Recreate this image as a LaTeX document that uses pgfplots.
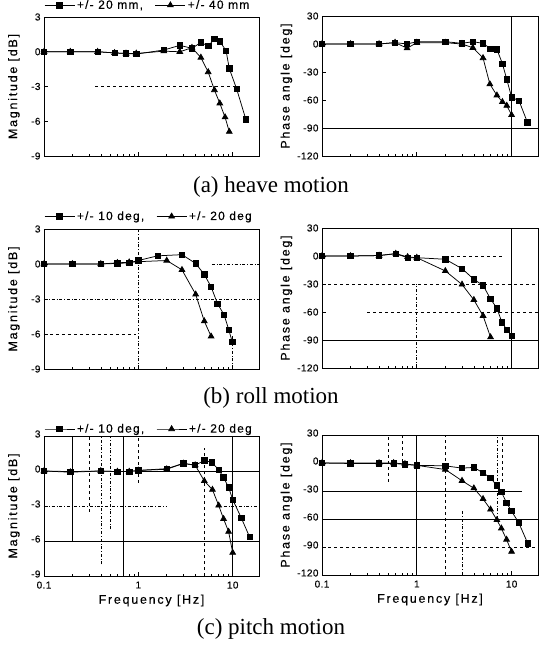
\documentclass[border=0pt]{standalone}
\usepackage{fontspec}
\setmainfont{Liberation Serif}
\setsansfont{Liberation Sans}
\newfontfamily\labfont{Liberation Sans}[LetterSpace=14, FakeBold=0.3]
\newfontfamily\legfont{Liberation Sans}[LetterSpace=10, FakeBold=0.3]
\newfontfamily\ticfont{Liberation Sans}[LetterSpace=4, FakeBold=0.3]
\usepackage{pgfplots}
\pgfplotsset{compat=1.18}
\tikzset{
 mysq/.style={black, line width=0.75pt, mark=square*, mark size=2.7pt, mark options={solid}},
 mytri/.style={black, line width=0.75pt, mark=triangle*, mark size=3.3pt, mark options={solid}},
 mygrid/.style={line width=0.6pt, black},
}
\begin{document}
\begin{tikzpicture}
\useasboundingbox (0pt,0pt) rectangle (539pt,-645pt);

% ---------------- (a) heave magnitude
\begin{semilogxaxis}[at={(44pt,-156pt)}, anchor=south west,
  scale only axis, width=215pt, height=139pt, xmin=0.1, xmax=19,
  xtick={0.1,1,10}, xticklabels={,,},
  tick align=inside, xtick pos=bottom, ytick pos=left,
  axis line style={line width=0.9pt},
  major tick length=4pt, minor tick length=2.5pt,
  tick style={black, line width=0.6pt},
  ticklabel style={font=\fontsize{10}{12}\ticfont},
  /pgf/number format/assume math mode=true,
  clip=false,
  ymin=-9, ymax=3, ytick={-9,-6,-3,0,3},
  ylabel={Magnitude [dB]}, ylabel style={font=\fontsize{12.5}{15}\labfont, anchor=center, at={(axis description cs:-0.14,0.5)}},
  legend columns=2, legend cell align=left,
  legend image code/.code={\draw[mark repeat=2,mark phase=2,#1] plot coordinates {(0pt,0pt) (15pt,0pt) (30pt,0pt)};},
  legend style={draw=none, fill=none, inner sep=0pt, font=\fontsize{12}{14}\legfont,
    /tikz/every even column/.append style={column sep=10pt},
    at={(axis description cs:0,1.085)}, anchor=west}]
\draw[mygrid, dashed] (axis cs:0.35,-3) -- (axis cs:12,-3);
\addplot[mysq] coordinates {(0.1,0) (0.19,0) (0.37,0) (0.56,-0.1) (0.74,-0.15) (0.95,-0.2) (1.86,0.15) (2.75,0.55) (3.7,0.3) (4.6,0.8) (5.5,0.5) (6.4,1.1) (7.3,0.9) (8.5,0.1) (9.2,-1.45) (11,-3.2) (13.8,-5.85)};
\addlegendentry{+/- 20 mm,}
\addplot[mytri] coordinates {(0.1,0) (0.19,0) (0.37,0) (0.56,-0.1) (0.74,-0.15) (0.95,-0.15) (1.86,0.05) (2.75,0) (3.7,0.35) (4.6,-0.5) (5.5,-1.75) (6.4,-3.3) (7.3,-4.45) (8.3,-5.65) (9.2,-6.9)};
\addlegendentry{+/- 40 mm}
\end{semilogxaxis}

% ---------------- (a) heave phase
\begin{semilogxaxis}[at={(322pt,-156pt)}, anchor=south west,
  scale only axis, width=216pt, height=140pt, xmin=0.1, xmax=19,
  xtick={0.1,1,10}, xticklabels={,,},
  tick align=inside, xtick pos=bottom, ytick pos=left,
  axis line style={line width=0.9pt},
  major tick length=4pt, minor tick length=2.5pt,
  tick style={black, line width=0.6pt},
  ticklabel style={font=\fontsize{10}{12}\ticfont},
  /pgf/number format/assume math mode=true,
  clip=false,
  ymin=-120, ymax=30, ytick={-120,-90,-60,-30,0,30},
  ylabel={Phase angle [deg]}, ylabel style={font=\fontsize{12.5}{15}\labfont, anchor=center, at={(axis description cs:-0.165,0.5)}}]
\draw[mygrid] (axis cs:0.1,-90) -- (axis cs:19,-90);
\draw[mygrid] (axis cs:10,-120) -- (axis cs:10,30);
\addplot[mysq] coordinates {(0.1,0) (0.2,0) (0.4,0) (0.59,1.5) (0.79,0) (1,2.5) (2,2.5) (3,0.7) (3.9,2.5) (5,0.7) (6,-5) (7,-5.7) (8,-21) (8.9,-38) (10,-57) (12,-61) (14.7,-84)};
\addplot[mytri] coordinates {(0.1,0) (0.2,0) (0.4,0) (0.59,1.5) (0.79,-4.5) (1,1.4) (2,1.4) (3,0) (3.9,-4) (5,-15) (5.9,-43) (7,-55) (8,-62) (8.9,-66) (10,-76)};
\end{semilogxaxis}

\node[font=\fontsize{23}{26}\selectfont] at (271pt,-187pt) {(a) heave motion};

% ---------------- (b) roll magnitude
\begin{semilogxaxis}[at={(44pt,-369pt)}, anchor=south west,
  scale only axis, width=215pt, height=140pt, xmin=0.1, xmax=19,
  xtick={0.1,1,10}, xticklabels={,,},
  tick align=inside, xtick pos=bottom, ytick pos=left,
  axis line style={line width=0.9pt},
  major tick length=4pt, minor tick length=2.5pt,
  tick style={black, line width=0.6pt},
  ticklabel style={font=\fontsize{10}{12}\ticfont},
  /pgf/number format/assume math mode=true,
  clip=false,
  ymin=-9, ymax=3, ytick={-9,-6,-3,0,3},
  ylabel={Magnitude [dB]}, ylabel style={font=\fontsize{12.5}{15}\labfont, anchor=center, at={(axis description cs:-0.14,0.5)}},
  legend columns=2, legend cell align=left,
  legend image code/.code={\draw[mark repeat=2,mark phase=2,#1] plot coordinates {(0pt,0pt) (15pt,0pt) (30pt,0pt)};},
  legend style={draw=none, fill=none, inner sep=0pt, font=\fontsize{12}{14}\legfont,
    /tikz/every even column/.append style={column sep=10pt},
    at={(axis description cs:0,1.09)}, anchor=west}]
\draw[mygrid, dash dot] (axis cs:0.1,-3) -- (axis cs:19,-3);
\draw[mygrid, dashed] (axis cs:0.1,-6) -- (axis cs:0.95,-6);
\draw[mygrid, dash dot] (axis cs:6,0) -- (axis cs:19,0);
\draw[mygrid, dash dot] (axis cs:1,-9) -- (axis cs:1,3);
\draw[mygrid, dash dot] (axis cs:10,-9) -- (axis cs:10,-6);
\addplot[mysq] coordinates {(0.1,0) (0.2,0) (0.4,0) (0.6,0.05) (0.8,0.1) (1,0.3) (1.6,0.7) (2.9,0.8) (4.05,0.05) (5,-0.9) (5.9,-1.95) (6.9,-3.4) (8.1,-4.35) (9.1,-5.65) (9.9,-6.7)};
\addlegendentry{+/- 10 deg,}
\addplot[mytri] coordinates {(0.1,0) (0.2,0) (0.4,0) (0.6,0.1) (0.8,0.15) (1,0.2) (2,0.3) (2.9,-0.5) (4.05,-2.6) (5,-4.9) (5.9,-6.2)};
\addlegendentry{+/- 20 deg}
\end{semilogxaxis}

% ---------------- (b) roll phase
\begin{semilogxaxis}[at={(322pt,-368pt)}, anchor=south west,
  scale only axis, width=216pt, height=140pt, xmin=0.1, xmax=19,
  xtick={0.1,1,10}, xticklabels={,,},
  tick align=inside, xtick pos=bottom, ytick pos=left,
  axis line style={line width=0.9pt},
  major tick length=4pt, minor tick length=2.5pt,
  tick style={black, line width=0.6pt},
  ticklabel style={font=\fontsize{10}{12}\ticfont},
  /pgf/number format/assume math mode=true,
  clip=false,
  ymin=-120, ymax=30, ytick={-120,-90,-60,-30,0,30},
  ylabel={Phase angle [deg]}, ylabel style={font=\fontsize{12.5}{15}\labfont, anchor=center, at={(axis description cs:-0.165,0.5)}}]
\draw[mygrid, dashed] (axis cs:2,0) -- (axis cs:8,0);
\draw[mygrid, dashed] (axis cs:0.1,-30) -- (axis cs:19,-30);
\draw[mygrid, dashed] (axis cs:0.3,-60) -- (axis cs:19,-60);
\draw[mygrid] (axis cs:0.1,-90) -- (axis cs:19,-90);
\draw[mygrid, dash dot] (axis cs:1,-120) -- (axis cs:1,-30);
\draw[mygrid] (axis cs:10,-120) -- (axis cs:10,30);
\addplot[mysq] coordinates {(0.1,0) (0.2,0) (0.4,0.5) (0.6,2.5) (0.8,-1.8) (1,-1.8) (2,-3.5) (3,-13.5) (4,-25) (5,-31.5) (6,-46) (7,-56) (7.9,-71) (8.9,-79) (10,-85.5)};
\addplot[mytri] coordinates {(0.1,0) (0.2,0) (0.4,0.5) (0.6,2.5) (0.8,-1) (1,-1.8) (2,-16) (3,-30.5) (4,-47) (5,-64) (6,-87)};
\end{semilogxaxis}

\node[font=\fontsize{23}{26}\selectfont] at (271pt,-398pt) {(b) roll motion};

% ---------------- (c) pitch magnitude
\begin{semilogxaxis}[at={(44pt,-576pt)}, anchor=south west,
  scale only axis, width=215pt, height=140pt, xmin=0.1, xmax=19,
  xtick={0.1,1,10}, xticklabels={0.1,1,10},
  xticklabel style={yshift=-2pt},
  xlabel={Frequency [Hz]}, xlabel style={font=\fontsize{12.5}{15}\labfont, anchor=center, at={(axis description cs:0.5,-0.175)}},
  tick align=inside, xtick pos=bottom, ytick pos=left,
  axis line style={line width=0.9pt},
  major tick length=4pt, minor tick length=2.5pt,
  tick style={black, line width=0.6pt},
  ticklabel style={font=\fontsize{10}{12}\ticfont},
  /pgf/number format/assume math mode=true,
  clip=false,
  ymin=-9, ymax=3, ytick={-9,-6,-3,0,3},
  yticklabel style={yshift=2pt},
  ylabel={Magnitude [dB]}, ylabel style={font=\fontsize{12.5}{15}\labfont, anchor=center, at={(axis description cs:-0.14,0.5)}},
  legend columns=2, legend cell align=left,
  legend image code/.code={\draw[mark repeat=2,mark phase=2,#1] plot coordinates {(0pt,0pt) (15pt,0pt) (30pt,0pt)};},
  legend style={draw=none, fill=none, inner sep=0pt, font=\fontsize{12}{14}\legfont,
    /tikz/every even column/.append style={column sep=10pt},
    at={(axis description cs:0,1.05)}, anchor=west}]
\draw[mygrid] (axis cs:1,0) -- (axis cs:19,0);
\draw[mygrid, dash dot] (axis cs:0.1,-3) -- (axis cs:2,-3);
\draw[mygrid, dash dot] (axis cs:8,-3) -- (axis cs:19,-3);
\draw[mygrid] (axis cs:0.1,-6) -- (axis cs:19,-6);
\draw[mygrid] (axis cs:0.2,-6) -- (axis cs:0.2,3);
\draw[mygrid, dashed] (axis cs:0.3,-3.5) -- (axis cs:0.3,3);
\draw[mygrid, dash dot] (axis cs:0.4,-8) -- (axis cs:0.4,3);
\draw[mygrid, dash dot] (axis cs:0.5,-5) -- (axis cs:0.5,3);
\draw[mygrid] (axis cs:0.7,-9) -- (axis cs:0.7,3);
\draw[mygrid, dashed] (axis cs:1,-1) -- (axis cs:1,3);
\draw[mygrid, dashed] (axis cs:5,-9) -- (axis cs:5,2);
\draw[mygrid] (axis cs:10,-9) -- (axis cs:10,3);
\addplot[mysq] coordinates {(0.1,0) (0.19,-0.05) (0.4,0) (0.6,-0.05) (0.8,-0.05) (1,0.05) (2,0.2) (3,0.65) (4,0.5) (5,0.9) (6,0.75) (7.1,0.1) (8,-0.55) (9.05,-1.4) (10,-2.45) (12.3,-4) (15.1,-5.65)};
\addlegendentry{+/- 10 deg,}
\addplot[mytri] coordinates {(0.1,0) (0.19,-0.1) (0.4,0) (0.6,-0.05) (0.8,-0.05) (1,0.05) (2,0.15) (3,0.65) (4,0.5) (5,-0.85) (6.1,-1.6) (7.1,-2.95) (8,-4.1) (9.05,-5.2) (10,-7)};
\addlegendentry{+/- 20 deg}
\end{semilogxaxis}

% ---------------- (c) pitch phase
\begin{semilogxaxis}[at={(322pt,-575pt)}, anchor=south west,
  scale only axis, width=216pt, height=140pt, xmin=0.1, xmax=19,
  xtick={0.1,1,10}, xticklabels={0.1,1,10},
  xticklabel style={yshift=-2pt},
  xlabel={Frequency [Hz]}, xlabel style={font=\fontsize{12.5}{15}\labfont, anchor=center, at={(axis description cs:0.5,-0.175)}},
  tick align=inside, xtick pos=bottom, ytick pos=left,
  axis line style={line width=0.9pt},
  major tick length=4pt, minor tick length=2.5pt,
  tick style={black, line width=0.6pt},
  ticklabel style={font=\fontsize{10}{12}\ticfont},
  /pgf/number format/assume math mode=true,
  clip=false,
  ymin=-120, ymax=30, ytick={-120,-90,-60,-30,0,30},
  yticklabel style={yshift=2pt},
  ylabel={Phase angle [deg]}, ylabel style={font=\fontsize{12.5}{15}\labfont, anchor=center, at={(axis description cs:-0.165,0.5)}}]
\draw[mygrid] (axis cs:0.1,-30) -- (axis cs:13,-30);
\draw[mygrid] (axis cs:0.1,-60) -- (axis cs:19,-60);
\draw[mygrid, dashed] (axis cs:0.1,-90) -- (axis cs:19,-90);
\draw[mygrid, dashed] (axis cs:0.5,-20) -- (axis cs:0.5,30);
\draw[mygrid, dashed] (axis cs:0.7,-5) -- (axis cs:0.7,30);
\draw[mygrid] (axis cs:1,-120) -- (axis cs:1,30);
\draw[mygrid, dashed] (axis cs:2,-120) -- (axis cs:2,30);
\draw[mygrid, dash dot] (axis cs:3,-120) -- (axis cs:3,-50);
\draw[mygrid, dash dot] (axis cs:7,-60) -- (axis cs:7,30);
\draw[mygrid, dashed] (axis cs:8,-20) -- (axis cs:8,30);
\addplot[mysq] coordinates {(0.1,0) (0.2,-0.5) (0.4,-0.5) (0.57,-0.5) (0.75,-1.5) (1,-2.5) (2,-3) (3,-5.5) (4,-4.7) (5,-10.5) (6,-16) (6.95,-24) (7.8,-31) (8.85,-42.5) (9.9,-51) (11.9,-64) (14.8,-86)};
\addplot[mytri] coordinates {(0.1,0) (0.2,0) (0.4,0) (0.57,0) (0.75,-1) (1,-2.5) (2,-7) (3,-19) (4,-27) (5,-38.5) (6,-49.7) (7,-61) (7.8,-70) (8.85,-82) (10,-95)};
\end{semilogxaxis}

\node[font=\fontsize{23}{26}\selectfont] at (271pt,-629pt) {(c) pitch motion};
\end{tikzpicture}
\end{document}
